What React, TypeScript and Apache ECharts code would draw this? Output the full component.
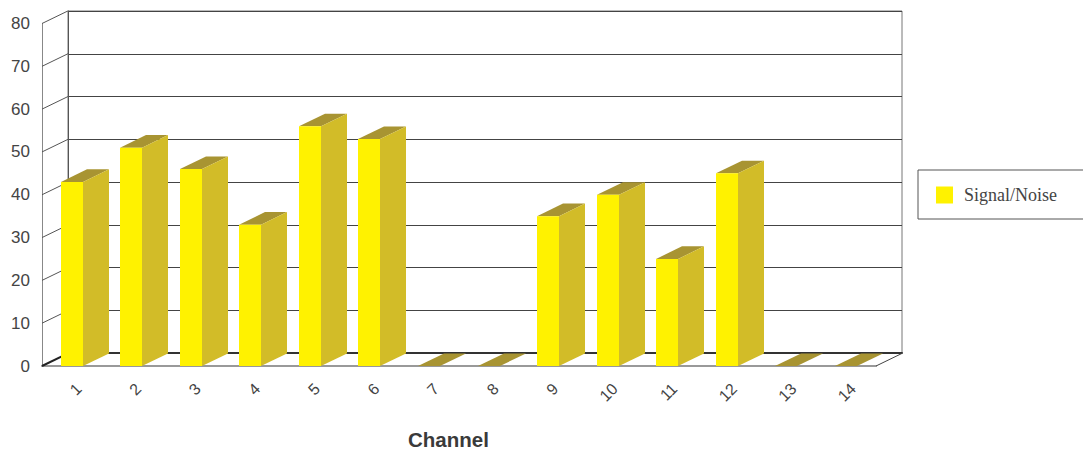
import React, { useEffect, useRef } from "react";
import * as echarts from "echarts";

const categories = ["1","2","3","4","5","6","7","8","9","10","11","12","13","14"];
const signalNoise = [43, 51, 46, 33, 56, 53, 0, 0, 35, 40, 25, 45, 0, 0];
const yTicks = [0, 10, 20, 30, 40, 50, 60, 70, 80];
const seriesName = "Signal/Noise";
const DEPTH_X = 26;
const DEPTH_Y = 12.6;
const FONT = "'Liberation Sans', Arial, sans-serif";

export default function App() {
  const ref = useRef<HTMLDivElement>(null);
  useEffect(() => {
    const chart = echarts.init(ref.current!, null, { renderer: "svg" });
    chart.setOption({
      animation: false,
      backgroundColor: "#fff",
      title: {
        text: "Channel",
        left: 408,
        top: 429,
        padding: 0,
        textStyle: { fontFamily: FONT, fontSize: 20.5, lineHeight: 20, fontWeight: "bold", color: "#3a3a3a" },
      },
      legend: {
        left: 918,
        top: 170,
        orient: "vertical",
        data: [seriesName],
        icon: "rect",
        itemWidth: 17,
        itemHeight: 17,
        itemGap: 0,
        padding: [16, 30, 15, 18],
        borderColor: "#555",
        borderWidth: 1,
        selectedMode: false,
        textStyle: { fontFamily: "'Liberation Serif', 'Times New Roman', serif", fontSize: 18, color: "#444", padding: [0, 0, 0, 6] },
      },
      grid: [
        { left: 42, right: 207, top: 23.5, bottom: 83 },
        { left: 68, right: 181, top: 11, bottom: 96, show: true, borderColor: "#777", borderWidth: 1, backgroundColor: "transparent" },
        { left: 49, right: 200, top: 23.5, bottom: 83 },
      ],
      xAxis: [
        {
          type: "category",
          gridIndex: 0,
          data: categories,
          axisTick: { show: false },
          axisLine: { show: true, onZero: false, lineStyle: { color: "#999", width: 2 } },
          axisLabel: { show: false },
        },
        {
          type: "category",
          gridIndex: 1,
          data: categories,
          axisTick: { show: false },
          axisLabel: { show: false },
          axisLine: { show: true, lineStyle: { color: "#333", width: 2 } },
        },
        {
          type: "category",
          gridIndex: 2,
          data: categories,
          axisTick: { show: false },
          axisLine: { show: false },
          axisLabel: { rotate: 45, interval: 0, margin: 20, fontFamily: FONT, fontSize: 16, color: "#444" },
        },
      ],
      yAxis: [
        {
          type: "value",
          gridIndex: 0,
          min: 0,
          max: 80,
          interval: 10,
          axisTick: { show: false },
          splitLine: { show: false },
          axisLine: { show: true, lineStyle: { color: "#888", width: 1 } },
          axisLabel: { margin: 12, fontFamily: FONT, fontSize: 17, color: "#444" },
        },
        {
          type: "value",
          gridIndex: 1,
          min: 0,
          max: 80,
          interval: 10,
          axisTick: { show: false },
          axisLabel: { show: false },
          axisLine: { show: true, lineStyle: { color: "#555", width: 1 } },
          splitLine: { show: true, lineStyle: { color: "#444", width: 1 } },
        },
        {
          type: "value",
          gridIndex: 2,
          min: 0,
          max: 80,
          interval: 10,
          show: false,
          splitLine: { show: false },
        },
      ],
      series: [
        {
          type: "custom",
          name: "walls",
          xAxisIndex: 0,
          yAxisIndex: 0,
          z: 3,
          silent: true,
          data: yTicks.map((t) => [t]),
          encode: { y: 0 },
          renderItem: (_p: any, api: any) => {
            const [, y] = api.coord([0, api.value(0)]);
            const left = _p.coordSys.x;
            const children: any[] = [
              {
                type: "line",
                shape: { x1: left, y1: y, x2: left + DEPTH_X, y2: y - DEPTH_Y },
                style: { stroke: api.value(0) === 0 ? "#222" : "#555", lineWidth: api.value(0) === 0 ? 2 : 1 },
              },
            ];
            if (api.value(0) === 0) {
              const right = _p.coordSys.x + _p.coordSys.width;
              children.push({
                type: "line",
                shape: { x1: right, y1: y, x2: right + DEPTH_X, y2: y - DEPTH_Y },
                style: { stroke: "#444", lineWidth: 1 },
              });
            }
            return { type: "group", children };
          },
        },
        {
          type: "custom",
          name: seriesName,
          xAxisIndex: 0,
          yAxisIndex: 0,
          z: 5,
          itemStyle: { color: "#FFF200" },
          data: signalNoise.map((v, i) => [i, v]),
          encode: { x: 0, y: 1 },
          renderItem: (_p: any, api: any) => {
            const [cx, top] = api.coord([api.value(0), api.value(1)]);
            const [, base] = api.coord([api.value(0), 0]);
            const w = 22;
            const l = Math.round(cx - 11.2);
            const r = l + w;
            const children: any[] = [
              {
                type: "polygon",
                shape: { points: [[l, top], [r, top], [r + DEPTH_X, top - DEPTH_Y], [l + DEPTH_X, top - DEPTH_Y]] },
                style: { fill: "#A89432" },
              },
            ];
            if (api.value(1) > 0) {
              children.push(
                {
                  type: "polygon",
                  shape: { points: [[r, top], [r + DEPTH_X, top - DEPTH_Y], [r + DEPTH_X, base - DEPTH_Y], [r, base]] },
                  style: { fill: "#D2BC28" },
                },
                { type: "rect", shape: { x: l, y: top, width: w, height: base - top }, style: { fill: "#FFF200" } }
              );
            }
            return { type: "group", children };
          },
        },
      ],
    });
    return () => chart.dispose();
  }, []);
  return <div ref={ref} style={{ position: "fixed", left: 0, top: 0, width: 1083, height: 449 }} />;
}
